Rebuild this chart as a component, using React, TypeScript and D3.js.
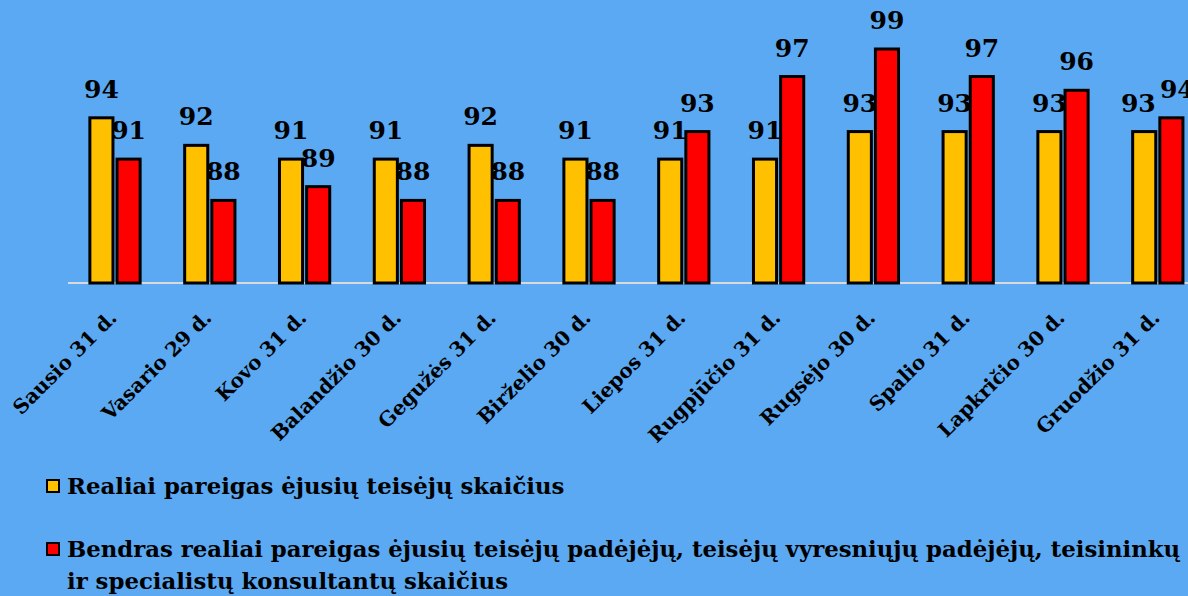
import React from "react";
import * as d3 from "d3";

// months (x categories)
const months = [
  "Sausio 31 d.",
  "Vasario 29 d.",
  "Kovo 31 d.",
  "Balandžio 30 d.",
  "Gegužės 31 d.",
  "Birželio 30 d.",
  "Liepos 31 d.",
  "Rugpjūčio 31 d.",
  "Rugsėjo 30 d.",
  "Spalio 31 d.",
  "Lapkričio 30 d.",
  "Gruodžio 31 d.",
];

const judges = [94, 92, 91, 91, 92, 91, 91, 91, 93, 93, 93, 93];
const assistants = [91, 88, 89, 88, 88, 88, 93, 97, 99, 97, 96, 94];

const seriesNames = [
  "Realiai pareigas ėjusių teisėjų skaičius",
  "Bendras realiai pareigas ėjusių teisėjų padėjėjų, teisėjų vyresniųjų padėjėjų, teisininkų",
];
const seriesNameCont = "ir specialistų konsultantų skaičius";
const seriesColors = ["#FFC000", "#FF0000"];

const W = 1188;
const H = 596;
const FONT = "'DejaVu Serif', serif";
const LABEL_SIZE = 25;

export default function App() {
  const baseY = 283;
  // axis starts a bit above zero, like the original
  const y = d3.scaleLinear().domain([82, 99]).range([baseY, 49]);

  const x0 = d3
    .scaleBand<string>()
    .domain(months)
    .range([67.6, 67.6 + 94.8 * months.length])
    .paddingInner(0.47)
    .paddingOuter(0.235);

  const x1 = d3
    .scaleBand<number>()
    .domain([0, 1])
    .range([0, x0.bandwidth()])
    .paddingInner(0.15);

  const values = [judges, assistants];

  // push the two labels of a group apart when they sit at nearly the same height
  const labelW = 2 * 0.7 * LABEL_SIZE;
  const spread = (i: number) => {
    const dy = Math.abs(y(judges[i]) - y(assistants[i]));
    if (dy > LABEL_SIZE * 0.9) return 0;
    const gap = x1.step();
    return Math.max(0, (labelW + 4 - gap) / 2);
  };

  return (
    <svg
      width={W}
      height={H}
      style={{ position: "absolute", left: 0, top: 0, background: "#5AA9F2" }}
    >
      <rect x={0} y={0} width={W} height={H} fill="#5AA9F2" />

      {/* axis line */}
      <line x1={68} x2={W} y1={baseY} y2={baseY} stroke="#D9D9D9" strokeWidth={2} />

      {/* bars */}
      {months.map((m, i) => (
        <g key={m} transform={`translate(${x0(m)},0)`}>
          {values.map((vals, s) => (
            <rect
              key={s}
              x={x1(s)}
              y={y(vals[i])}
              width={x1.bandwidth()}
              height={baseY - y(vals[i])}
              fill={seriesColors[s]}
              stroke="#000"
              strokeWidth={3}
            />
          ))}
        </g>
      ))}

      {/* value labels */}
      {months.map((m, i) =>
        values.map((vals, s) => (
          <text
            key={`${m}-${s}`}
            x={
              (x0(m) ?? 0) +
              (x1(s) ?? 0) +
              x1.bandwidth() / 2 +
              (s === 0 ? -1 : 1) * spread(i)
            }
            y={y(vals[i]) - 20}
            textAnchor="middle"
            fontFamily={FONT}
            fontWeight="bold"
            fontSize={LABEL_SIZE}
            fill="#000"
          >
            {vals[i]}
          </text>
        ))
      )}

      {/* x tick labels */}
      {months.map((m) => {
        const cx = (x0(m) ?? 0) + x0.bandwidth() / 2 + 3;
        const cy = baseY + 36;
        return (
          <text
            key={m}
            transform={`translate(${cx},${cy}) rotate(-45)`}
            textAnchor="end"
            fontFamily={FONT}
            fontWeight="bold"
            fontSize={20}
            fill="#000"
          >
            {m}
          </text>
        );
      })}

      {/* legend */}
      <g fontFamily={FONT} fontWeight="bold" fontSize={22.8} fill="#000">
        <rect x={47} y={480} width={12} height={12} fill={seriesColors[0]} stroke="#000" strokeWidth={2} />
        <text x={67} y={494}>{seriesNames[0]}</text>
        <rect x={47} y={543} width={12} height={12} fill={seriesColors[1]} stroke="#000" strokeWidth={2} />
        <text x={67} y={557}>{seriesNames[1]}</text>
        <text x={67} y={589}>{seriesNameCont}</text>
      </g>
    </svg>
  );
}
